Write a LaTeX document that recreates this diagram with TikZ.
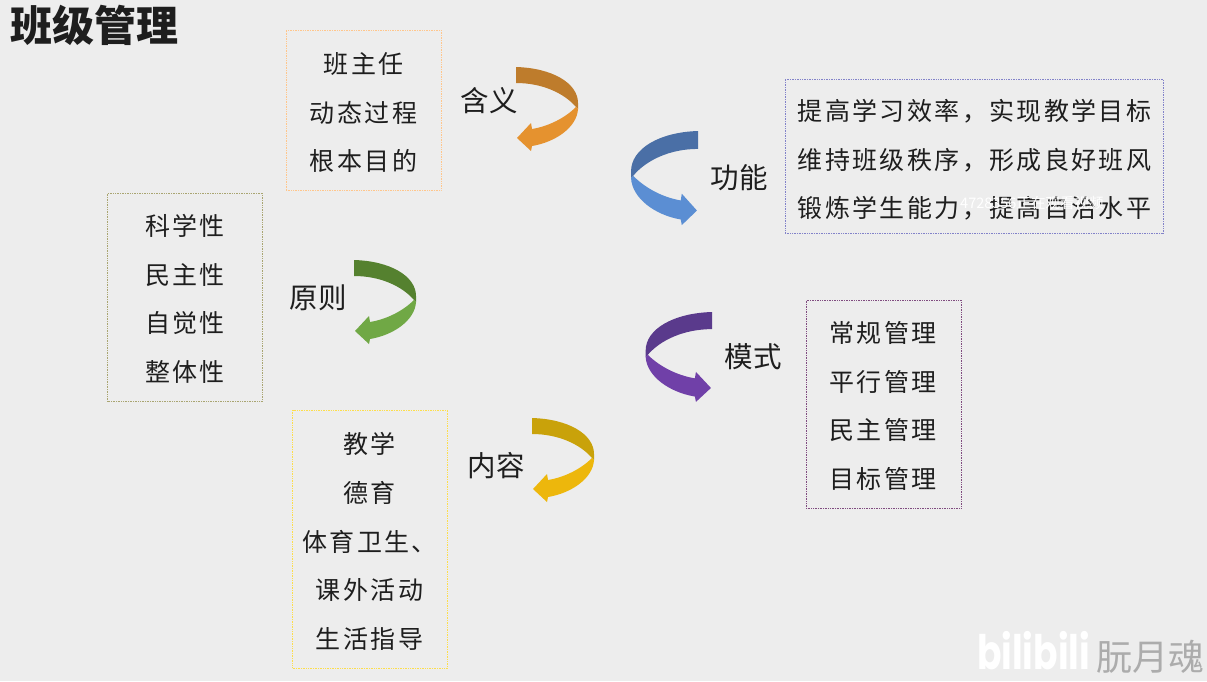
\documentclass[tikz,border=0pt]{standalone}
\usepackage{fontspec}
\setmainfont{Noto Sans CJK SC}
\newfontfamily\spacedcjk[LetterSpace=9.5]{Noto Sans CJK SC}
\newfontfamily\labelcjk[LetterSpace=2.5]{Noto Sans CJK SC}
\newfontfamily\logofont{Poppins}
\definecolor{pagebg}{HTML}{EDEDED}
\definecolor{inkc}{HTML}{1E1E1E}
\newcommand{\bendarrow}[6]{% x,y,xscale,yscale,dark,light
  \begin{scope}[shift={(#1,#2)},xscale=#3,yscale=#4]
    \path[fill=#5] (0,0) .. controls (36,1) and (62,16) .. (62,36) -- (62,42)
      -- (60,40) .. controls (48,26) and (26,16) .. (0,16) -- cycle;
    \path[fill=#6] (62,42) .. controls (61,60) and (40,75) .. (16,79)
      -- (15,84) -- (1,71) -- (15,56) -- (16,62)
      .. controls (34,59) and (50,50) .. (60,40) -- cycle;
  \end{scope}}
\tikzset{
  x=1pt,y=-1pt,
  listbox/.style={draw=#1,densely dotted,line width=.7pt,minimum width=155pt,inner sep=0pt},
  listtext/.style={inner sep=0pt,align=center,text=inkc,font=\fontsize{25}{48.7}\selectfont\spacedcjk},
  topic/.style={text=inkc,inner sep=0pt,font=\fontsize{28.5}{30}\selectfont\labelcjk},
}
\begin{document}
\begin{tikzpicture}
\useasboundingbox (0,0) rectangle (1207,681);
\fill[pagebg] (0,0) rectangle (1207,681);
\node[anchor=west,inner sep=0pt,text=inkc] (title) at (10,25) {\fontsize{42}{44}\selectfont\bfseries 班级管理};
\node[listbox=orange!45,minimum height=160pt] (hanyi) at (363.5,110) {};
\node[listtext] (hanyit) at (363.5,112.5) {班主任\\动态过程\\根本目的};
\node[listbox=olive!60!black!55,minimum height=208pt] (yuanze) at (185,297) {};
\node[listtext] (yuanzet) at (185,299) {科学性\\民主性\\自觉性\\整体性};
\node[listbox=yellow!70!orange!70,minimum height=258pt] (neirong) at (370,539) {};
\node[listtext] (neirongt) at (369.5,541.5) {教学\\德育\\体育卫生、\\课外活动\\生活指导};
\node[listbox={blue!40!gray!70},minimum width=378pt,minimum height=154pt] (gongneng) at (974,156) {};
\node[listtext] (gongnengt) at (974.5,160) {提高学习效率，实现教学目标\\维持班级秩序，形成良好班风\\锻炼学生能力，提高自治水平};
\node[listbox={violet!40!gray},minimum height=208pt] (moshi) at (883.5,404) {};
\node[listtext] (moshit) at (883,406) {常规管理\\平行管理\\民主管理\\目标管理};
\node[topic] (thanyi) at (489,101) {含义};
\node[topic] (tgongneng) at (739,178) {功能};
\node[topic] (tyuanze) at (318,298) {原则};
\node[topic] (tneirong) at (496,466) {内容};
\node[topic] (tmoshi) at (753,357) {模式};
\definecolor{o1}{HTML}{BE7C2C}\definecolor{o2}{HTML}{E5922F}
\definecolor{b1}{HTML}{4A6FA6}\definecolor{b2}{HTML}{5B8ED3}
\definecolor{g1}{HTML}{55812F}\definecolor{g2}{HTML}{70A845}
\definecolor{y1}{HTML}{C9A20A}\definecolor{y2}{HTML}{EDB70C}
\definecolor{p1}{HTML}{5A3A8C}\definecolor{p2}{HTML}{7040A8}
\bendarrow{516}{67}{1}{1}{o1}{o2}
\bendarrow{354}{260}{1}{1}{g1}{g2}
\bendarrow{532}{418}{1}{1}{y1}{y2}
\bendarrow{698}{131}{-1.08}{1.12}{b1}{b2}
\bendarrow{712}{312}{-1.07}{1.07}{p1}{p2}
\node[anchor=west,inner sep=0pt,text=white] (mark) at (960,203) {\fontsize{14.5}{16}\selectfont 4728356正在观看视频};
\node[anchor=west,inner sep=0pt,text=white,xscale=1.06,yscale=1.4,transform shape] (logo) at (977,651) {\fontsize{34}{36}\selectfont\logofont\bfseries bilibili};
\node[anchor=east,inner sep=0pt,text=gray!65] (author) at (1205,657) {\fontsize{36}{38}\selectfont 朊月魂};
\end{tikzpicture}
\end{document}
